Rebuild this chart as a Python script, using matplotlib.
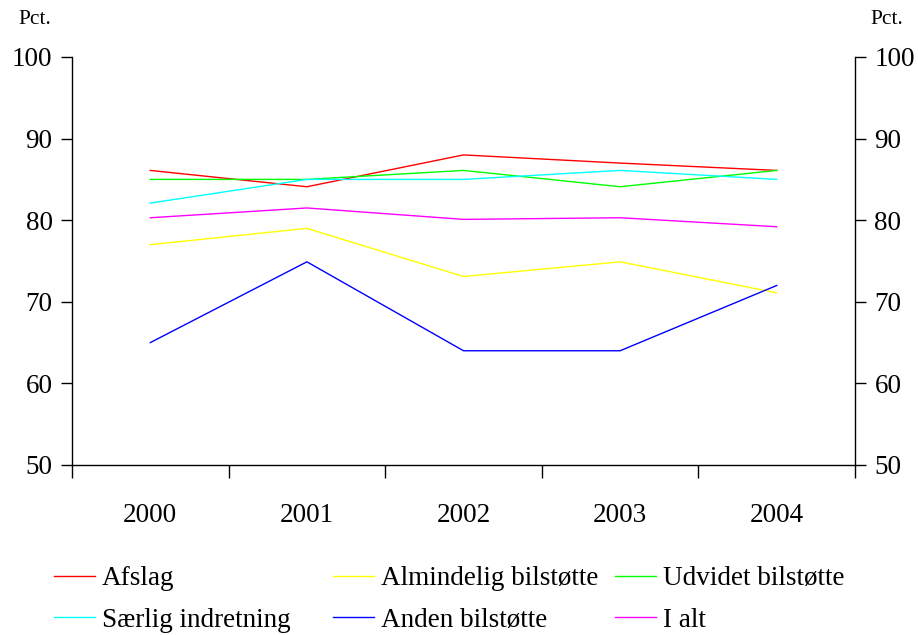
import matplotlib.pyplot as plt
from matplotlib.ticker import FixedLocator

plt.rcParams['font.family'] = ['Liberation Serif', 'DejaVu Serif']

years = ['2000', '2001', '2002', '2003', '2004']
afslag = [86.1, 84.1, 88.0, 87.0, 86.1]
almindelig = [77.0, 79.0, 73.1, 74.9, 71.1]
udvidet = [85.0, 85.0, 86.1, 84.1, 86.1]
saerlig = [82.1, 85.0, 85.0, 86.1, 85.0]
anden = [65.0, 74.9, 64.0, 64.0, 72.0]
i_alt = [80.3, 81.5, 80.1, 80.3, 79.2]

series = [
    ('Afslag', afslag, '#ff0000'),
    ('Almindelig bilstøtte', almindelig, '#ffff00'),
    ('Udvidet bilstøtte', udvidet, '#00ff00'),
    ('Særlig indretning', saerlig, '#00ffff'),
    ('Anden bilstøtte', anden, '#0000ff'),
    ('I alt', i_alt, '#ff00ff'),
]
fs = 19.5

fig = plt.figure(figsize=(9.18, 6.35), dpi=100)
ax = fig.add_axes([72 / 918, 170 / 635, 783 / 918, 408 / 635])

x = list(range(len(years)))
lines = {}
for name, vals, col in series:
    lines[name], = ax.plot(x, vals, color=col, lw=1.0)

ax.set_xlim(-0.5, len(years) - 0.5)
ax.set_ylim(50, 100)
ax.set_yticks([50, 60, 70, 80, 90, 100])
ax.set_xticks(x)
ax.set_xticklabels(years)
ax.xaxis.set_minor_locator(FixedLocator([i - 0.5 for i in range(len(years) + 1)]))
ax.tick_params(axis='x', which='major', length=0, pad=27, labelsize=fs)
ax.tick_params(axis='x', which='minor', length=9, width=1, direction='out')
ax.tick_params(axis='y', length=8, width=1, direction='out', pad=6, labelsize=fs)
for s in ['top', 'right']:
    ax.spines[s].set_visible(False)
for s in ['left', 'bottom']:
    ax.spines[s].set_linewidth(1)

ax2 = ax.twinx()
ax2.set_ylim(50, 100)
ax2.set_yticks([50, 60, 70, 80, 90, 100])
ax2.tick_params(axis='y', length=8, width=1, direction='out', pad=6, labelsize=fs)
for s in ['top', 'left', 'bottom']:
    ax2.spines[s].set_visible(False)
ax2.spines['right'].set_linewidth(1)

fig.text(18 / 918, 1 - 20 / 635, 'Pct.', fontsize=15.5, ha='left', va='center')
fig.text(870 / 918, 1 - 20 / 635, 'Pct.', fontsize=15.5, ha='left', va='center')

cols = [('Afslag', 'Særlig indretning'),
        ('Almindelig bilstøtte', 'Anden bilstøtte'),
        ('Udvidet bilstøtte', 'I alt')]
xpos = [54, 333, 615]
for names, xp in zip(cols, xpos):
    fig.legend([lines[n] for n in names], list(names), loc='upper left',
               bbox_to_anchor=(xp / 918, 1 - 566 / 635), frameon=False,
               fontsize=fs, handlelength=1.5, handletextpad=0.26,
               labelspacing=0.62, borderaxespad=0, borderpad=0)

fig.savefig('out.png', dpi=100)
